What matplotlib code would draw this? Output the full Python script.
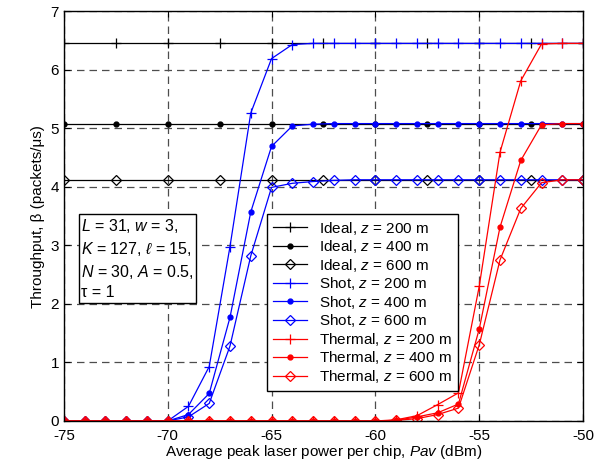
#throughput vs average peak laser power
import numpy as np
import matplotlib.pyplot as plt

plt.rcParams['font.family'] = ['Liberation Sans', 'DejaVu Sans']
plt.rcParams['mathtext.fontset'] = 'custom'
plt.rcParams['mathtext.rm'] = 'Liberation Sans'
plt.rcParams['mathtext.it'] = 'Liberation Sans:italic'
plt.rcParams['axes.unicode_minus'] = False
plt.rcParams['font.size'] = 11

#data
p_ideal = [-75, -72.5, -70, -67.5, -65, -62.5, -60, -57.5, -55, -52.5, -50]
ideal200 = [6.45, 6.45, 6.45, 6.45, 6.45, 6.45, 6.45, 6.45, 6.45, 6.45, 6.45]
ideal400 = [5.08, 5.08, 5.08, 5.08, 5.08, 5.08, 5.08, 5.08, 5.08, 5.08, 5.08]
ideal600 = [4.12, 4.12, 4.12, 4.12, 4.12, 4.12, 4.12, 4.12, 4.12, 4.12, 4.12]

p = np.arange(-75, -49, 1)
shot200 = [0, 0, 0, 0, 0, 0, 0.25, 0.93, 2.98, 5.26, 6.19, 6.43, 6.45,
           6.45, 6.45, 6.45, 6.45, 6.45, 6.45, 6.45, 6.45, 6.45, 6.45, 6.45, 6.45, 6.45]
shot400 = [0, 0, 0, 0, 0, 0, 0.11, 0.47, 1.77, 3.57, 4.69, 5.04, 5.07,
           5.08, 5.08, 5.08, 5.08, 5.08, 5.08, 5.08, 5.08, 5.08, 5.08, 5.08, 5.08, 5.08]
shot600 = [0, 0, 0, 0, 0, 0, 0.07, 0.30, 1.28, 2.82, 3.99, 4.06, 4.09,
           4.11, 4.12, 4.12, 4.12, 4.12, 4.12, 4.12, 4.12, 4.12, 4.12, 4.12, 4.12, 4.12]
therm200 = [0, 0, 0, 0, 0, 0, 0, 0, 0, 0, 0, 0, 0, 0, 0, 0,
            0.02, 0.09, 0.28, 0.48, 2.30, 4.59, 5.81, 6.44, 6.45, 6.45]
therm400 = [0, 0, 0, 0, 0, 0, 0, 0, 0, 0, 0, 0, 0, 0, 0, 0,
            0.01, 0.07, 0.14, 0.29, 1.57, 3.31, 4.45, 5.06, 5.08, 5.08]
therm600 = [0, 0, 0, 0, 0, 0, 0, 0, 0, 0, 0, 0, 0, 0, 0, 0,
            0.01, 0.04, 0.11, 0.22, 1.30, 2.75, 3.63, 4.07, 4.12, 4.12]
zs = ['200', '400', '600']

fig = plt.figure(figsize=(6.08, 4.66), dpi=100)
ax = fig.add_axes([0.105, 0.0966, 0.854, 0.8794])

lw = 0.9
mk = dict(plus=dict(marker='+', ms=7.5, mew=0.9),
          dot=dict(marker='.', ms=7),
          dia=dict(marker='D', ms=4.8, mfc='none', mew=0.9))
keys = ['plus', 'dot', 'dia']

for y, z, k in zip([ideal200, ideal400, ideal600], zs, keys):
    ax.plot(p_ideal, y, color='k', lw=lw, label=r'Ideal, $z$ = %s m' % z, **mk[k])
for y, z, k in zip([shot200, shot400, shot600], zs, keys):
    ax.plot(p, y, color='b', lw=lw, label=r'Shot, $z$ = %s m' % z, **mk[k])
for y, z, k in zip([therm200, therm400, therm600], zs, keys):
    ax.plot(p, y, color='r', lw=lw, label=r'Thermal, $z$ = %s m' % z, **mk[k])

ax.set_xlim(-75, -50)
ax.set_ylim(0, 7)
ax.set_xticks([-75, -70, -65, -60, -55, -50])
ax.set_yticks(range(8))
ax.grid(True, color='0.3', linestyle=(0, (6, 4)), lw=0.9)
ax.tick_params(direction='in', top=True, right=True, length=4)
ax.tick_params(axis='x', pad=6)
for s in ax.spines.values():
    s.set_linewidth(1.0)

ax.set_xlabel(r'Average peak laser power per chip, $Pav$ (dBm)', labelpad=0)
ax.set_ylabel('Throughput, β (packets/μs)', labelpad=4)

leg = ax.legend(loc='lower left', bbox_to_anchor=(0.391, 0.073), borderaxespad=0,
                fancybox=False, framealpha=1, edgecolor='k', handlelength=2.2,
                handletextpad=0.8, labelspacing=0.1, borderpad=0.4)
leg.get_frame().set_linewidth(1.0)

ax.text(0.034, 0.497,
        '$L$ = 31, $w$ = 3,\n$K$ = 127, $\\ell$ = 15,\n$N$ = 30, $A$ = 0.5,\nτ = 1',
        transform=ax.transAxes, va='top', ha='left', linespacing=1.35, fontsize=11.5,
        bbox=dict(boxstyle='square,pad=0.15', fc='w', ec='k', lw=1.0), zorder=5)

fig.savefig('out.png', dpi=100)
